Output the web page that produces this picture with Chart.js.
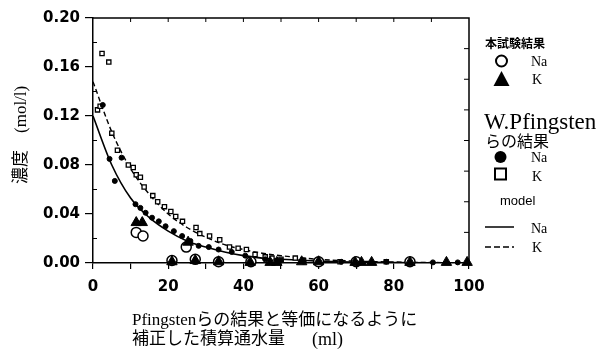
<!DOCTYPE html>
<html>
<head>
<meta charset="utf-8">
<script src="https://cdn.jsdelivr.net/npm/chart.js@4.4.1/dist/chart.umd.min.js"></script>
<style>
  body { margin: 0; background: #fff; }
  #c { display: block; }
</style>
</head>
<body>
<canvas id="c" width="602" height="356"></canvas>
<script>
// 本試験結果 Na (open circles)
var testNaX = [11.5, 13.3, 24.8, 21, 27.2, 33.4, 42, 60, 70, 84.3];
var testNaY = [0.025, 0.022, 0.013, 0.002, 0.003, 0.001, 0.001, 0.001, 0.001, 0.001];
// 本試験結果 K (filled triangles)
var testKX = [11.5, 13.1, 25.3, 21, 27.2, 33.4, 41.8, 47.1, 48.9, 55.5, 60, 69.7, 71.4, 74.1, 84.3, 94, 99.5];
var testKY = [0.033, 0.033, 0.017, 0.001, 0.002, 0.001, 0.0005, 0.0005, 0.0005, 0.001, 0.001, 0.0005, 0.0005, 0.0005, 0.0005, 0.0005, 0.0005];
// W.Pfingstenらの結果 Na (filled circles)
var pfNaX = [2.6, 4.4, 5.8, 7.6, 11.3, 12.6, 14, 15.7, 17.5, 19.3, 21.5, 23.7, 25.9, 28.1, 30.8, 33.4, 36.9, 40.5, 45.8, 50, 56, 66, 78, 90.4, 97];
var pfNaY = [0.129, 0.085, 0.067, 0.086, 0.048, 0.045, 0.041, 0.037, 0.034, 0.030, 0.026, 0.022, 0.018, 0.014, 0.013, 0.011, 0.009, 0.006, 0.003, 0.002, 0.001, 0.001, 0.001, 0.0005, 0.0005];
// W.Pfingstenらの結果 K (open squares)
var pfKX = [1.2, 1.9, 2.4, 4.2, 5, 6.5, 9.4, 10.7, 11.5, 12.6, 13.6, 15.9, 17.2, 19, 20.7, 22, 23.8, 27.4, 28.4, 31, 33.7, 36.3, 38.6, 40.8, 43.1, 45.8, 47.6, 50, 53.8, 56, 60, 65.7, 70, 78];
var pfKY = [0.125, 0.128, 0.171, 0.164, 0.106, 0.092, 0.080, 0.078, 0.072, 0.070, 0.062, 0.055, 0.050, 0.046, 0.042, 0.038, 0.034, 0.029, 0.024, 0.022, 0.019, 0.013, 0.012, 0.011, 0.007, 0.005, 0.004, 0.003, 0.004, 0.002, 0.002, 0.001, 0.001, 0.001];
// model curves
var modelX = [0, 5, 10, 15, 20, 25, 30, 35, 40, 45, 50, 60, 70, 80, 90, 100];
var modelNa = [0.120, 0.080, 0.053, 0.037, 0.026, 0.018, 0.013, 0.009, 0.006, 0.004, 0.003, 0.0015, 0.0008, 0.0004, 0.0002, 0.0001];
var modelK = [0.148, 0.107, 0.077, 0.056, 0.040, 0.029, 0.021, 0.015, 0.011, 0.008, 0.006, 0.003, 0.0015, 0.0008, 0.0004, 0.0002];

// tick marks drawn inside the frame
var topTicks = [10, 20, 30, 40, 50, 60, 70, 80, 90];
var rightTicks = [0.025, 0.05, 0.075, 0.1, 0.125, 0.15, 0.175];
var leftMinorTicks = [0.02, 0.06, 0.1, 0.14, 0.18];

function pts(xs, ys) {
    return xs.map(function (v, i) { return { x: v, y: ys[i] }; });
}

var serifJp = "'Liberation Serif', 'Noto Sans CJK JP'";

var decor = {
    id: 'decor',
    afterDraw: function (chart) {
        var ctx = chart.ctx, a = chart.chartArea;
        var x = chart.scales.x, y = chart.scales.y;
        ctx.save();
        ctx.strokeStyle = '#000';
        ctx.fillStyle = '#000';

        // frame top / right
        ctx.lineWidth = 1.5;
        ctx.beginPath();
        ctx.moveTo(a.left, a.top);
        ctx.lineTo(a.right, a.top);
        ctx.lineTo(a.right, a.bottom);
        ctx.stroke();

        ctx.lineWidth = 1;
        ctx.beginPath();
        topTicks.forEach(function (v) {
            var px = x.getPixelForValue(v);
            ctx.moveTo(px, a.top); ctx.lineTo(px, a.top + 4);
        });
        rightTicks.forEach(function (v) {
            var py = y.getPixelForValue(v);
            ctx.moveTo(a.right, py); ctx.lineTo(a.right - 5, py);
        });
        leftMinorTicks.forEach(function (v) {
            var py = y.getPixelForValue(v);
            ctx.moveTo(a.left, py); ctx.lineTo(a.left + 4, py);
        });
        ctx.stroke();

        // axis titles
        ctx.textBaseline = 'middle';
        ctx.textAlign = 'left';
        ctx.font = '17px ' + serifJp;
        ctx.fillText('Pfingstenらの結果と等価になるように', 132, 321);
        ctx.fillText('補正した積算通水量', 132, 340);
        ctx.font = '18px "Liberation Serif"';
        ctx.fillText('(ml)', 312, 340);

        ctx.save();
        ctx.translate(22, 184);
        ctx.rotate(-Math.PI / 2);
        ctx.font = '17px ' + serifJp;
        ctx.fillText('濃度　(mol/l)', 0, 0);
        ctx.restore();

        // legend
        ctx.font = 'bold 12px "Noto Sans CJK JP"';
        ctx.fillText('本試験結果', 485, 43);
        ctx.font = '14px "Liberation Serif"';
        ctx.fillText('Na', 531, 62);
        ctx.fillText('K', 532, 80);
        ctx.fillText('Na', 531, 158);
        ctx.fillText('K', 532, 177);
        ctx.fillText('Na', 531, 229);
        ctx.fillText('K', 532, 248);
        ctx.font = '23px ' + serifJp;
        ctx.fillText('W.Pfingsten', 484, 123);
        ctx.font = '16px "Noto Sans CJK JP"';
        ctx.fillText('らの結果', 485, 141);
        ctx.font = '13px "Liberation Sans"';
        ctx.fillText('model', 500, 201);

        ctx.lineWidth = 2;
        ctx.beginPath();
        ctx.arc(501.5, 61, 5.5, 0, Math.PI * 2);
        ctx.stroke();
        ctx.beginPath();
        ctx.moveTo(501.5, 71); ctx.lineTo(509.5, 86); ctx.lineTo(493.5, 86);
        ctx.closePath();
        ctx.fill();
        ctx.beginPath();
        ctx.arc(500.5, 157, 6, 0, Math.PI * 2);
        ctx.fill();
        ctx.strokeRect(495, 168.5, 11, 11);

        ctx.lineWidth = 1.5;
        ctx.beginPath();
        ctx.moveTo(485, 227); ctx.lineTo(514, 227);
        ctx.stroke();
        ctx.setLineDash([6, 3]);
        ctx.beginPath();
        ctx.moveTo(485, 247); ctx.lineTo(514, 247);
        ctx.stroke();
        ctx.restore();
    }
};

var tickFont = { family: 'DejaVu Sans', weight: 'bold', size: 15 };

new Chart(document.getElementById('c'), {
    type: 'scatter',
    data: {
        datasets: [
            {
                label: '本試験結果 K',
                data: pts(testKX, testKY),
                pointStyle: 'triangle',
                pointRadius: 6,
                backgroundColor: '#000',
                borderColor: '#000',
                borderWidth: 1,
                clip: false,
            },
            {
                label: '本試験結果 Na',
                data: pts(testNaX, testNaY),
                pointStyle: 'circle',
                pointRadius: 5,
                backgroundColor: '#fff',
                borderColor: '#000',
                borderWidth: 1.5,
                clip: false,
            },
            {
                label: 'W.Pfingsten Na',
                data: pts(pfNaX, pfNaY),
                pointStyle: 'circle',
                pointRadius: 2.5,
                backgroundColor: '#000',
                borderColor: '#000',
                borderWidth: 1,
                clip: false,
            },
            {
                label: 'W.Pfingsten K',
                data: pts(pfKX, pfKY),
                pointStyle: 'rect',
                pointRadius: 3,
                backgroundColor: '#fff',
                borderColor: '#000',
                borderWidth: 1.3,
                clip: false,
            },
            {
                label: 'model Na',
                data: pts(modelX, modelNa),
                showLine: true,
                pointRadius: 0,
                borderColor: '#000',
                borderWidth: 1.6,
                cubicInterpolationMode: 'monotone',
            },
            {
                label: 'model K',
                data: pts(modelX, modelK),
                showLine: true,
                pointRadius: 0,
                borderColor: '#000',
                borderWidth: 1.4,
                borderDash: [5, 3],
                cubicInterpolationMode: 'monotone',
            },
        ],
    },
    options: {
        responsive: false,
        animation: false,
        devicePixelRatio: 1,
        layout: { padding: { left: 0, top: 18, right: 133, bottom: 0 } },
        plugins: {
            legend: { display: false },
            tooltip: { enabled: false },
        },
        scales: {
            x: {
                type: 'linear',
                min: 0,
                max: 100,
                afterFit: function (s) { s.height = 93; },
                ticks: {
                    stepSize: 10,
                    autoSkip: false,
                    maxRotation: 0,
                    color: '#000',
                    font: tickFont,
                    padding: 9,
                    callback: function (v) { return v % 20 === 0 ? String(v) : ''; },
                },
                grid: { drawOnChartArea: false, color: '#000', tickLength: 6, lineWidth: 1.2 },
                border: { color: '#000', width: 1.5 },
            },
            y: {
                min: 0,
                max: 0.2,
                afterFit: function (s) { s.width = 93; },
                ticks: {
                    stepSize: 0.04,
                    color: '#000',
                    font: tickFont,
                    padding: 5,
                    callback: function (v) { return v.toFixed(2); },
                },
                grid: { drawOnChartArea: false, color: '#000', tickLength: 8, lineWidth: 1.2 },
                border: { color: '#000', width: 1.5 },
            },
        },
    },
    plugins: [decor],
});
</script>
</body>
</html>
